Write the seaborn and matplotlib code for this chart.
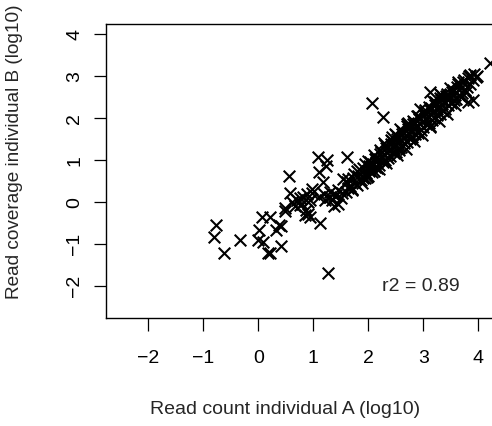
import matplotlib
matplotlib.use("Agg")
import matplotlib.pyplot as plt
import seaborn as sns

# sparse points and outliers (log10 values)
low_x = [-0.76, -0.81, -0.62, -0.33, 0.02, 0.06, 0.00, 0.09, 0.21, 0.18, 0.21,
         0.33, 0.41, 0.41, 0.37, 0.49, 0.48, 0.55, 0.58, 0.70, 0.67, 0.76,
         0.82, 0.85, 0.94, 0.91, 0.97, 1.12, 1.09, 1.25, 1.11, 1.24, 1.18,
         1.11, 1.27, 1.22, 1.31, 1.42, 1.55, 1.52, 1.64, 1.70, 1.61, 1.97,
         2.06, 2.26, 2.12, 2.56, 3.12, 3.12, 3.91, 3.82, 3.97, 4.21, 3.86,
         0.62, 0.75, 0.80, 0.88, 0.95, 0.98, 0.86, 0.90,
         1.35, 1.40, 1.45, 1.50, 1.38, 1.30, 1.20, 1.45]
low_y = [-0.55, -0.83, -1.21, -0.90, -0.67, -0.35, -0.90, -0.94, -0.35, -1.21, -1.22,
         -0.67, -0.57, -1.05, -0.54, -0.15, -0.22, 0.62, 0.21, 0.05, -0.10, -0.07,
         0.13, -0.31, -0.35, 0.00, 0.21, -0.49, 1.08, 1.00, 0.72, 0.87, 0.48,
         0.13, -1.70, 0.06, 0.25, 0.17, 0.56, 0.21, 0.33, 0.29, 1.08, 0.60,
         2.37, 2.03, 0.84, 1.24, 1.81, 2.63, 2.44, 2.38, 3.00, 3.30, 3.02,
         0.00, 0.10, -0.05, 0.20, 0.05, 0.30, -0.20, -0.28,
         0.05, 0.15, -0.05, 0.10, -0.10, 0.12, 0.20, 0.28]

# main band
band_x = [1.60, 1.62, 1.66, 1.64, 1.70, 1.72, 1.76, 1.74, 1.80, 1.81, 1.79,
          1.86, 1.84, 1.90, 1.91, 1.89, 1.96, 1.94, 1.95,
          2.00, 2.02, 1.99, 2.01, 2.06, 2.04, 2.05, 2.10, 2.12, 2.09, 2.11,
          2.16, 2.14, 2.15, 2.20, 2.22, 2.19, 2.21, 2.26, 2.24, 2.25,
          2.30, 2.32, 2.29, 2.31, 2.36, 2.34, 2.35, 2.40, 2.42, 2.39, 2.41,
          2.46, 2.44, 2.45, 2.50, 2.52, 2.49, 2.51, 2.56, 2.54, 2.55,
          2.60, 2.62, 2.59, 2.61, 2.66, 2.64, 2.65, 2.70, 2.72, 2.69, 2.71,
          2.76, 2.74, 2.75, 2.80, 2.82, 2.79, 2.81, 2.86, 2.84, 2.85,
          2.90, 2.92, 2.89, 2.91, 2.96, 2.94, 2.95, 3.00, 3.02, 2.99, 3.01,
          3.06, 3.04, 3.05, 3.10, 3.12, 3.09, 3.11, 3.16, 3.14, 3.15,
          3.20, 3.22, 3.19, 3.21, 3.26, 3.24, 3.25, 3.30, 3.32, 3.29, 3.31,
          3.36, 3.34, 3.35, 3.40, 3.42, 3.39, 3.46, 3.44, 3.45,
          3.50, 3.52, 3.49, 3.56, 3.54, 3.55, 3.60, 3.62, 3.59, 3.66, 3.64,
          3.70, 3.72, 3.69, 3.76, 3.74, 3.80, 3.82, 3.86, 3.84, 3.90, 3.92, 3.96,
          2.95, 3.30, 2.48, 2.20, 3.58, 2.70,
          2.28, 2.43, 2.58, 2.73, 2.88, 3.03, 3.18, 3.33, 3.48, 3.63,
          2.33, 2.53, 2.68, 2.83, 2.98, 3.13, 3.28, 3.43, 3.68, 3.78]
band_y = [0.25, 0.48, 0.38, 0.55, 0.30, 0.58, 0.45, 0.68, 0.40, 0.62, 0.75,
          0.52, 0.78, 0.58, 0.82, 0.45, 0.70, 0.90, 0.58,
          0.62, 0.85, 0.98, 0.75, 0.72, 0.95, 0.85, 0.75, 1.02, 0.90, 1.12,
          0.82, 1.05, 0.95, 0.88, 1.15, 1.02, 1.25, 0.95, 1.20, 1.08,
          1.00, 1.28, 1.15, 1.35, 1.05, 1.32, 1.20, 1.10, 1.38, 1.25, 1.48,
          1.18, 1.45, 1.32, 1.20, 1.50, 1.37, 1.60, 1.28, 1.55, 1.42,
          1.32, 1.62, 1.48, 1.70, 1.40, 1.66, 1.53, 1.42, 1.75, 1.59, 1.82,
          1.50, 1.78, 1.65, 1.55, 1.85, 1.70, 1.92, 1.62, 1.90, 1.76,
          1.65, 1.98, 1.82, 2.05, 1.72, 2.00, 1.87, 1.78, 2.08, 1.93, 2.15,
          1.85, 2.12, 1.99, 1.88, 2.20, 2.04, 2.26, 1.95, 2.24, 2.10,
          2.00, 2.30, 2.16, 2.38, 2.08, 2.35, 2.21, 2.10, 2.42, 2.27, 2.48,
          2.18, 2.46, 2.33, 2.22, 2.52, 2.38, 2.30, 2.58, 2.44,
          2.35, 2.62, 2.50, 2.42, 2.68, 2.55, 2.45, 2.74, 2.61, 2.55, 2.80,
          2.60, 2.85, 2.72, 2.66, 2.90, 2.75, 2.95, 2.82, 3.00, 2.90, 3.05, 2.98,
          2.22, 2.58, 1.62, 0.78, 2.30, 1.85,
          1.40, 1.55, 1.75, 1.88, 2.06, 2.20, 2.40, 2.55, 2.72, 2.86,
          0.92, 1.12, 1.26, 1.45, 1.60, 1.78, 1.94, 2.10, 2.50, 2.62]

r2_label = "r2 = 0.89"
ticks = [-2, -1, 0, 1, 2, 3, 4]
tick_labels = ["\u22122", "\u22121", "0", "1", "2", "3", "4"]

xs = low_x + band_x
ys = low_y + band_y

sns.set_style("white")
plt.rcParams["font.family"] = ["Liberation Sans", "DejaVu Sans"]

fig = plt.figure(figsize=(4.92, 4.26), dpi=100)
ax = fig.add_axes([106 / 492, 1 - 318 / 426, (493 - 106) / 492, (318 - 24) / 426])

sns.scatterplot(x=xs, y=ys, marker="x", color="black", s=70, linewidth=1.5, ax=ax)

ax.set_xlim(-2.77, 4.27)
ax.set_ylim(-2.76, 4.24)
ax.set_xticks(ticks)
ax.set_yticks(ticks)
ax.set_xticklabels(tick_labels)
ax.set_yticklabels(tick_labels, rotation=90, va="center")
ax.tick_params(axis="both", direction="out", length=9, width=0.9, colors="black",
               labelsize=14, bottom=True, left=True)
ax.tick_params(axis="x", pad=14)
ax.tick_params(axis="y", pad=7.5)
for sp in ax.spines.values():
    sp.set_visible(True)
    sp.set_color("black")
    sp.set_linewidth(1.0)

ax.text(2.25, -2.02, r2_label, fontsize=14, va="center", ha="left")

fig.text(285 / 492, 1 - 409 / 426, "Read count individual A (log10)",
         fontsize=14, ha="center", va="center")
fig.text(15 / 492, 1 - 152 / 426, "Read coverage individual B (log10)",
         fontsize=13.7, ha="center", va="center", rotation=90)

fig.savefig("out.png", dpi=100)
